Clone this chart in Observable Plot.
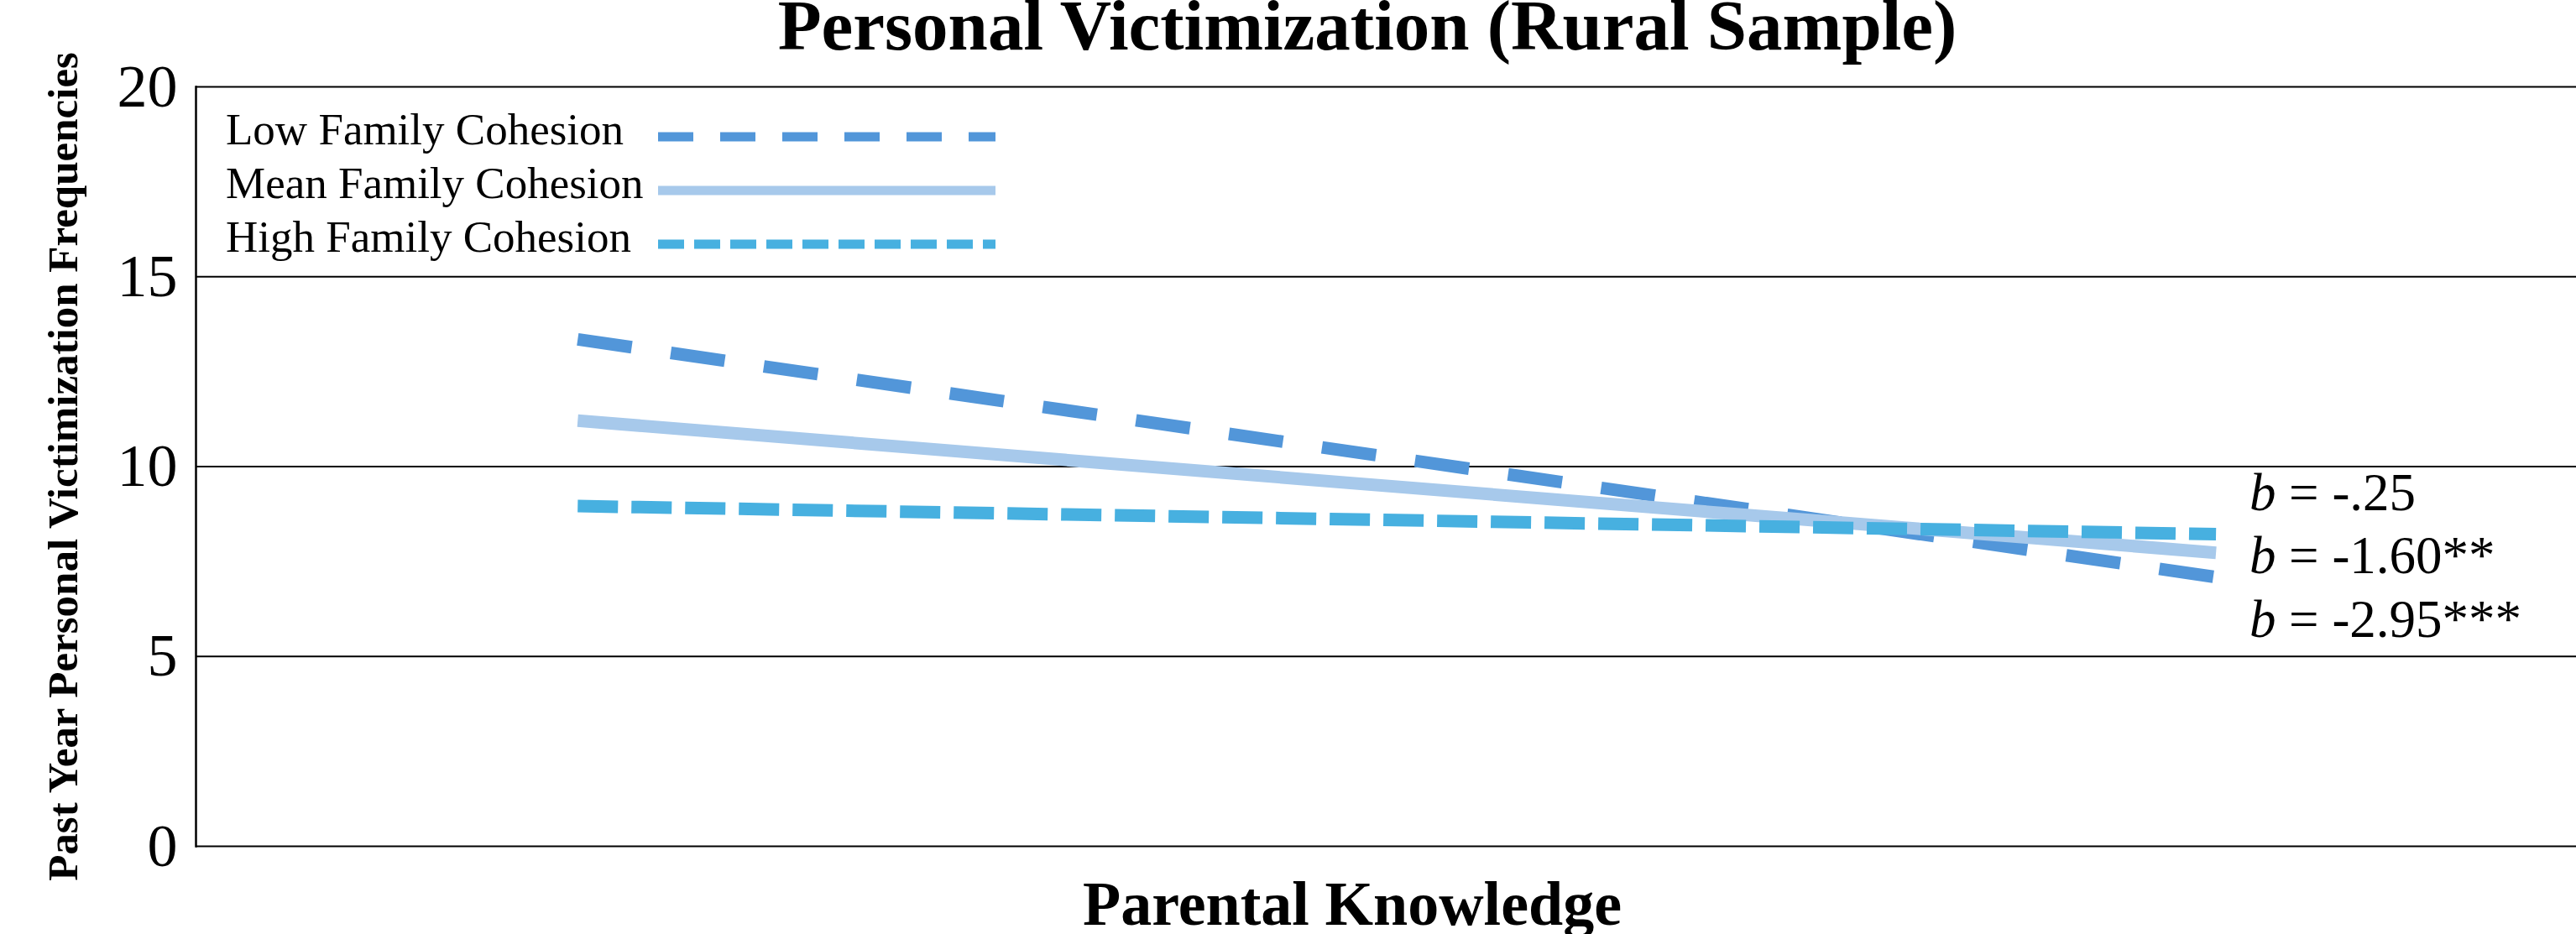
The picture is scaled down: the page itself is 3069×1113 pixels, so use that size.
<!DOCTYPE html>
<html><head><meta charset="utf-8">
<script src="https://cdn.jsdelivr.net/npm/d3@7"></script>
<script src="https://cdn.jsdelivr.net/npm/@observablehq/plot@0.6"></script>
<style>
html,body{margin:0;padding:0;background:#fff;overflow:hidden;}
#wrap{position:relative;width:3069px;height:1113px;font-family:"Liberation Serif","Times New Roman",serif;color:#000;}
.title{position:absolute;left:1629px;top:0px;transform:translateX(-50%);font-size:85px;line-height:60px;font-weight:bold;white-space:nowrap;}
#chart{position:absolute;left:0;top:80px;}
.xlabel{position:absolute;left:1611px;top:1040px;transform:translateX(-50%);font-size:74px;line-height:74px;font-weight:bold;white-space:nowrap;}
#legend{position:absolute;left:0;top:0;}
</style></head>
<body><div id="wrap">
<div class="title" id="title"></div>
<div id="chart"></div>
<div class="xlabel" id="xlabel"></div>
<svg id="legend" width="1300" height="340"></svg>
</div>
<script>
// ---- data ----
const titleText = "Personal Victimization (Rural Sample)";
const xLabel = "Parental Knowledge";
const yLabel = "Past Year Personal Victimization Frequencies";
const series = ["Low Family Cohesion", "Mean Family Cohesion", "High Family Cohesion"];
const knowledge = [-1, 1]; // low (-1 SD) and high (+1 SD) parental knowledge
const lowValues = [13.35, 7.09];
const meanValues = [11.21, 7.73];
const highValues = [8.96, 8.22];
const yTicks = [0, 5, 10, 15, 20];
const slopeCoefs = ["-.25", "-1.60**", "-2.95***"];

// ---- styles ----
const colors = ["#5296d9", "#a7c9eb", "#47b0e0"];
const dashes = ["65,47", null, "48,16"];
const legendDashes = ["42,32", null, "31,12"];
const font = "'Liberation Serif','Times New Roman',serif";

document.getElementById("title").textContent = titleText;
document.getElementById("xlabel").textContent = xLabel;

const allValues = [lowValues, meanValues, highValues];
const rows = series.flatMap((s, i) => knowledge.map((k, j) => ({series: s, knowledge: k, value: allValues[i][j]})));

const labelY = [9.30, 7.65, 5.97];

const lines = series.map((s, i) => Plot.line(rows.filter(d => d.series === s), {
  x: "knowledge", y: "value",
  stroke: colors[i], strokeWidth: 15,
  strokeDasharray: dashes[i] || undefined,
  strokeLinecap: "butt", strokeLinejoin: "miter"
}));

const chart = Plot.plot({
  width: 3069, height: 960,
  marginLeft: 233, marginRight: 0, marginTop: 23, marginBottom: 32,
  x: {domain: [-1.466, 1.44], axis: null},
  y: {domain: [0, 20], axis: null},
  style: {fontFamily: font, background: "white", color: "black", overflow: "visible"},
  marks: [
    Plot.ruleY(yTicks, {stroke: "black", strokeWidth: 2}),
    Plot.frame({anchor: "left", stroke: "black", strokeWidth: 2.5}),
    Plot.axisY({ticks: yTicks, tickSize: 0, tickPadding: 22, fontSize: 72, label: null}),
    ...lines,
    Plot.text(slopeCoefs, {x: () => knowledge[1], y: (d, i) => labelY[i], text: () => "b",
      dx: 40, textAnchor: "start", fontSize: 63, fontStyle: "italic", fill: "black"}),
    Plot.text(slopeCoefs, {x: () => knowledge[1], y: (d, i) => labelY[i], text: d => "= " + d,
      dx: 40 + 47, textAnchor: "start", fontSize: 63, fill: "black"}),
    Plot.text([yLabel], {frameAnchor: "left", rotate: -90, dx: -158, text: d => d,
      textAnchor: "middle", fontSize: 51, fontWeight: "bold", fill: "black"})
  ]
});
document.getElementById("chart").appendChild(chart);

// ---- legend (inside the plot frame, top-left) ----
const lg = d3.select("#legend");
const base = [172, 236, 300];
series.forEach((s, i) => {
  lg.append("text").attr("x", 269).attr("y", base[i]).attr("font-family", font)
    .attr("font-size", 53).attr("fill", "black").text(s);
  lg.append("line").attr("x1", 784).attr("x2", 1186).attr("y1", base[i] - 9).attr("y2", base[i] - 9)
    .attr("stroke", colors[i]).attr("stroke-width", 11)
    .attr("stroke-dasharray", legendDashes[i]);
});
</script>
</body></html>
